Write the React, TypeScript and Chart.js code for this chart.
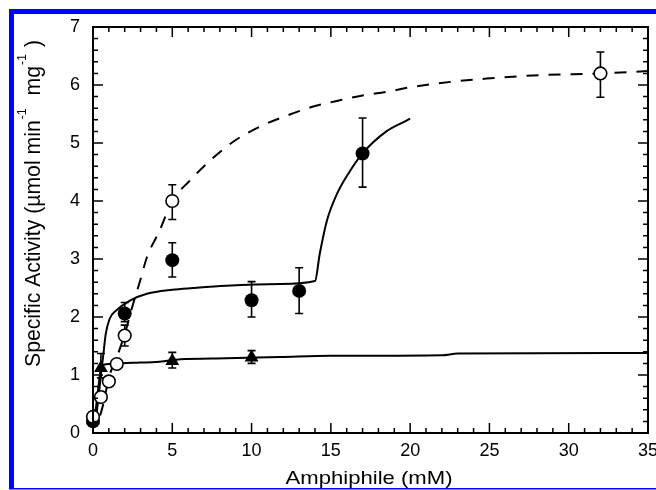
import React, { useEffect, useRef } from "react";
import { Chart, registerables } from "chart.js";

Chart.register(...registerables);

// ---- axis ticks / titles ----
const xTickValues = [0, 5, 10, 15, 20, 25, 30, 35];
const yTickValues = [0, 1, 2, 3, 4, 5, 6, 7];
const xMinorStep = 1;
const yMinorStep = 0.2;
const xTitle = "Amphiphile (mM)";
const yTitleMain = "Specific Activity (µmol min";
const yTitleMg = "  mg";
const yTitleEnd = " )";
const yTitleSup = "-1";

// ---- open circles (dashed fit) ----
const openX = [0, 0.5, 1, 1.5, 2, 5, 32];
const openY = [0.28, 0.62, 0.89, 1.19, 1.68, 4.0, 6.2];
const openLo = [null, null, null, null, 1.5, 3.68, 5.79];
const openHi = [null, null, null, null, 1.86, 4.28, 6.57];

// ---- filled circles (solid fit) ----
const fillX = [0, 2, 5, 10, 13, 17];
const fillY = [0.2, 2.06, 2.98, 2.29, 2.45, 4.82];
const fillLo = [null, 1.92, 2.69, 2.0, 2.06, 4.24];
const fillHi = [null, 2.25, 3.28, 2.61, 2.85, 5.43];

// ---- triangles (solid fit) ----
const triX = [0, 0.5, 5, 10];
const triY = [0.22, 1.12, 1.24, 1.3];
const triLo = [null, 0.95, 1.12, 1.2];
const triHi = [null, 1.37, 1.39, 1.42];

// ---- fitted curves ----
const dashX = [0.45, 0.65, 1.0, 1.6, 2.1, 2.5, 3.0, 3.4, 4.2, 5.0, 6.1, 7.6, 9.05, 10.75, 12.3, 13.9, 15.45, 17.0, 18.5, 20, 23.1, 24.8, 28.2, 32, 35];
const dashY = [0.3, 0.5, 0.95, 1.38, 1.8, 2.2, 2.65, 3.03, 3.49, 4.0, 4.35, 4.75, 5.06, 5.31, 5.48, 5.63, 5.73, 5.82, 5.88, 5.96, 6.07, 6.11, 6.17, 6.2, 6.24];

const solidX = [0.1, 0.3, 0.5, 0.65, 0.8, 1.05, 1.5, 2.3, 3.4, 5, 6.3, 8.4, 11.8, 14.0, 14.3, 14.75, 15.4, 16.1, 17, 18.5, 19.8, 20];
const solidY = [0.15, 0.5, 1.0, 1.35, 1.7, 1.97, 2.12, 2.28, 2.4, 2.47, 2.5, 2.54, 2.57, 2.62, 3.09, 3.66, 4.13, 4.47, 4.82, 5.2, 5.39, 5.42];

const triCurveX = [0.1, 0.3, 0.55, 1.0, 1.5, 2.5, 4.2, 5.5, 8.4, 11.8, 15, 22, 23, 35];
const triCurveY = [0.2, 0.7, 1.16, 1.19, 1.2, 1.21, 1.23, 1.27, 1.29, 1.31, 1.33, 1.34, 1.37, 1.38];

const FONT = "'Liberation Sans', Arial, Helvetica, sans-serif";

const pts = (xs: number[], ys: number[]) => xs.map((x, i) => ({ x, y: ys[i] }));

const errorSets = [
  { xs: openX, lo: openLo, hi: openHi },
  { xs: fillX, lo: fillLo, hi: fillHi },
  { xs: triX, lo: triLo, hi: triHi },
];

const decor = {
  id: "decor",
  beforeDraw(chart: any) {
    const { ctx, width } = chart;
    ctx.save();
    ctx.fillStyle = "#ffffff";
    ctx.fillRect(0, 0, chart.width, chart.height);
    ctx.fillStyle = "#0000ff";
    ctx.fillRect(9, 9, 5, 480);
    ctx.fillRect(9, 9, width - 9, 5);
    ctx.fillRect(9, 488, width - 9, 1.5);
    ctx.restore();
  },
  beforeDatasetsDraw(chart: any) {
    const { ctx } = chart;
    const xs = chart.scales.x;
    const ys = chart.scales.y;
    ctx.save();
    ctx.strokeStyle = "#000";
    ctx.lineWidth = 1.6;
    for (const s of errorSets) {
      s.xs.forEach((xv, i) => {
        const lo = s.lo[i];
        const hi = s.hi[i];
        if (lo == null || hi == null) return;
        const px = xs.getPixelForValue(xv);
        const p1 = ys.getPixelForValue(lo);
        const p2 = ys.getPixelForValue(hi);
        ctx.beginPath();
        ctx.moveTo(px, p1);
        ctx.lineTo(px, p2);
        ctx.moveTo(px - 4, p1);
        ctx.lineTo(px + 4, p1);
        ctx.moveTo(px - 4, p2);
        ctx.lineTo(px + 4, p2);
        ctx.stroke();
      });
    }
    ctx.restore();
  },
  afterDraw(chart: any) {
    const { ctx, chartArea } = chart;
    const { left, right, top, bottom } = chartArea;
    const xs = chart.scales.x;
    const ys = chart.scales.y;
    ctx.save();
    ctx.strokeStyle = "#000";
    ctx.lineWidth = 2;
    ctx.strokeRect(left, top, right - left, bottom - top);
    ctx.lineWidth = 1.5;
    ctx.beginPath();
    const xMax = xTickValues[xTickValues.length - 1];
    const xMin = xTickValues[0];
    for (let k = 0; xMin + k * xMinorStep <= xMax + 1e-9; k++) {
      const v = xMin + k * xMinorStep;
      const major = xTickValues.some((t) => Math.abs(t - v) < 1e-6);
      const len = major ? 10 : 5;
      const px = xs.getPixelForValue(v);
      ctx.moveTo(px, bottom);
      ctx.lineTo(px, bottom - len);
      ctx.moveTo(px, top);
      ctx.lineTo(px, top + len);
    }
    const yMax = yTickValues[yTickValues.length - 1];
    const yMin = yTickValues[0];
    for (let k = 0; yMin + k * yMinorStep <= yMax + 1e-9; k++) {
      const v = yMin + k * yMinorStep;
      const major = yTickValues.some((t) => Math.abs(t - v) < 1e-6);
      const len = major ? 10 : 5;
      const py = ys.getPixelForValue(v);
      ctx.moveTo(left, py);
      ctx.lineTo(left + len, py);
      ctx.moveTo(right, py);
      ctx.lineTo(right - len, py);
    }
    ctx.stroke();

    // x title
    ctx.fillStyle = "#000";
    ctx.font = `17.5px ${FONT}`;
    ctx.textBaseline = "alphabetic";
    ctx.textAlign = "left";
    const w = ctx.measureText(xTitle).width;
    const sx = 167 / w;
    ctx.save();
    ctx.translate(369 - 167 / 2, 484);
    ctx.scale(sx, 1);
    ctx.fillText(xTitle, 0, 0);
    ctx.restore();

    // y title (rotated)
    const mainF = `22px ${FONT}`;
    const supF = `13px ${FONT}`;
    ctx.font = mainF;
    const w1 = ctx.measureText(yTitleMain).width;
    const w3 = ctx.measureText(yTitleMg).width;
    const w5 = ctx.measureText(yTitleEnd).width;
    ctx.font = supF;
    const w2 = ctx.measureText(yTitleSup).width + 2;
    const total = w1 + w2 + w3 + w2 + w5;
    const sy = 327 / total;
    ctx.save();
    ctx.translate(39.5, 367);
    ctx.rotate(-Math.PI / 2);
    ctx.scale(sy, 1);
    let cx = 0;
    ctx.font = mainF;
    ctx.fillText(yTitleMain, cx, 0);
    cx += w1 + 1;
    ctx.font = supF;
    ctx.fillText(yTitleSup, cx, -14);
    cx += w2 - 1;
    ctx.font = mainF;
    ctx.fillText(yTitleMg, cx, 0);
    cx += w3 + 1;
    ctx.font = supF;
    ctx.fillText(yTitleSup, cx, -14);
    cx += w2 - 1;
    ctx.font = mainF;
    ctx.fillText(yTitleEnd, cx, 0);
    ctx.restore();

    ctx.restore();
  },
};

export default function App() {
  const ref = useRef<HTMLCanvasElement | null>(null);

  useEffect(() => {
    if (!ref.current) return;
    const curve = (xs: number[], ys: number[], dash: number[]) => ({
      data: pts(xs, ys),
      showLine: true,
      borderColor: "#000",
      borderWidth: 2,
      borderDash: dash,
      pointRadius: 0,
      cubicInterpolationMode: "monotone" as const,
      fill: false,
      order: 5,
    });
    const chart = new Chart(ref.current, {
      type: "scatter",
      data: {
        datasets: [
          curve(dashX, dashY, [12, 10]),
          curve(solidX, solidY, []),
          curve(triCurveX, triCurveY, []),
          {
            data: pts(openX, openY),
            pointStyle: "circle",
            pointRadius: 6.3,
            pointBackgroundColor: "#fff",
            pointBorderColor: "#000",
            pointBorderWidth: 1.6,
            clip: false,
            order: 0,
          } as any,
          {
            data: pts(fillX, fillY),
            pointStyle: "circle",
            pointRadius: 7,
            pointBackgroundColor: "#000",
            pointBorderColor: "#000",
            pointBorderWidth: 0,
            clip: false,
            order: 0,
          } as any,
          {
            data: pts(triX, triY),
            pointStyle: "triangle",
            pointRadius: 8,
            pointBackgroundColor: "#000",
            pointBorderColor: "#000",
            pointBorderWidth: 0,
            clip: false,
            order: 0,
          } as any,
        ],
      },
      options: {
        animation: false,
        responsive: false,
        maintainAspectRatio: false,
        layout: { padding: { left: 0, right: 8, top: 27, bottom: 0 } },
        plugins: { legend: { display: false }, tooltip: { enabled: false } },
        scales: {
          x: {
            type: "linear",
            min: xTickValues[0],
            max: xTickValues[xTickValues.length - 1],
            grid: { display: false, drawTicks: false },
            border: { display: false },
            ticks: {
              font: { size: 18, family: FONT },
              color: "#000",
              padding: 7,
              maxRotation: 0,
              autoSkip: false,
            },
            afterBuildTicks: (s: any) => {
              s.ticks = xTickValues.map((v) => ({ value: v }));
            },
            afterFit: (s: any) => {
              s.height = 57;
              s.paddingLeft = 0;
              s.paddingRight = 0;
            },
          },
          y: {
            type: "linear",
            min: yTickValues[0],
            max: yTickValues[yTickValues.length - 1],
            grid: { display: false, drawTicks: false },
            border: { display: false },
            ticks: {
              font: { size: 18, family: FONT },
              color: "#000",
              padding: 13,
              autoSkip: false,
            },
            afterBuildTicks: (s: any) => {
              s.ticks = yTickValues.map((v) => ({ value: v }));
            },
            afterFit: (s: any) => {
              s.width = 93;
              s.paddingTop = 0;
              s.paddingBottom = 0;
            },
          },
        },
      },
      plugins: [decor],
    });
    return () => chart.destroy();
  }, []);

  return (
    <div style={{ position: "absolute", left: 0, top: 0, width: 656, height: 490 }}>
      <canvas ref={ref} width={656} height={490} style={{ display: "block", width: 656, height: 490 }} />
    </div>
  );
}
